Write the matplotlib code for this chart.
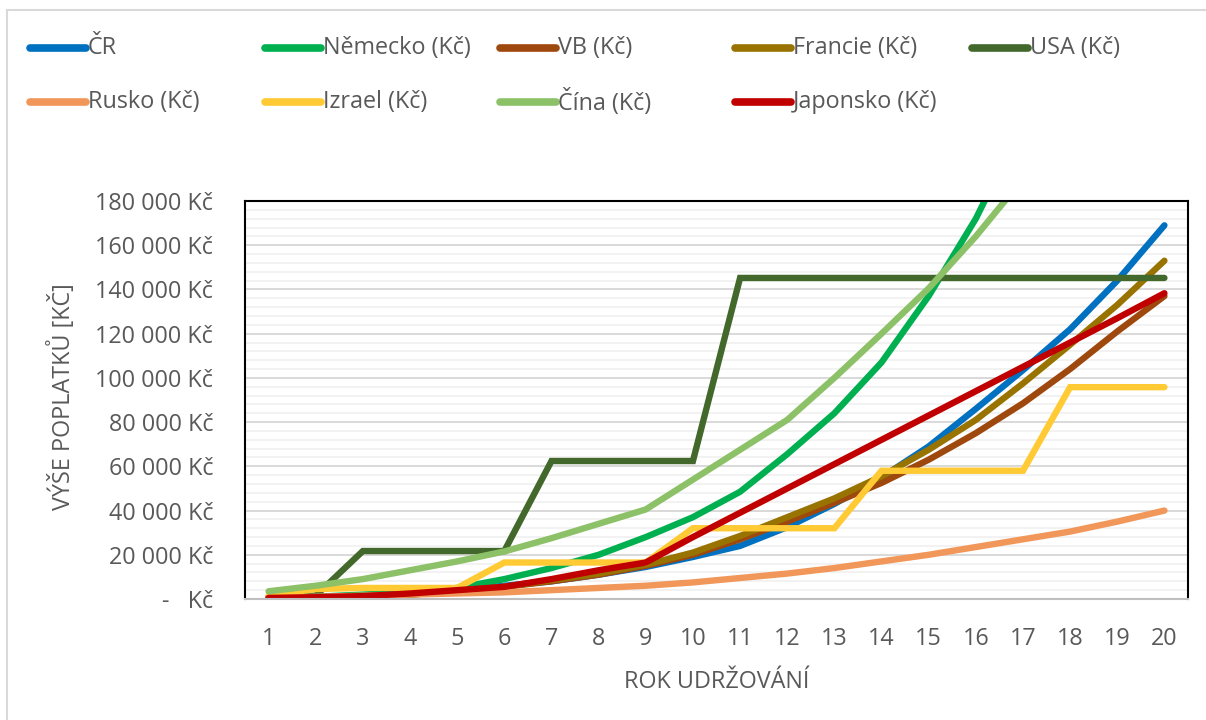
import numpy as np
import matplotlib
matplotlib.use("Agg")
import matplotlib.pyplot as plt
from matplotlib.lines import Line2D
from matplotlib.ticker import FuncFormatter, MultipleLocator

plt.rcParams["font.family"] = ["Open Sans", "DejaVu Sans"]

TEXT = "#595959"
FS = 16.8

years = list(range(1, 21))

cr       = [500, 1000, 1500, 2500, 4000, 6000, 8000, 11000, 14500, 19000,
            24000, 32500, 43000, 55000, 69000, 86000, 103500, 122000, 144000, 169000]
nemecko  = [500, 1000, 2000, 3000, 5000, 9000, 14000, 20000, 28000, 37000,
            48500, 65500, 84000, 107000, 137000, 172000, 215000, 260000, 310000, 360000]
vb       = [300, 700, 1200, 2000, 3500, 5500, 8000, 11000, 15000, 20000,
            27000, 35000, 43500, 52500, 63000, 75000, 88500, 104000, 121000, 137000]
francie  = [300, 700, 1200, 2000, 3500, 5500, 8500, 11500, 15500, 21000,
            28500, 37000, 45500, 55500, 67500, 81000, 97500, 115000, 133000, 153000]
usa      = [1000, 1500, 21700, 21700, 21700, 21700, 62400, 62400, 62400, 62400,
            145200, 145200, 145200, 145200, 145200, 145200, 145200, 145200, 145200, 145200]
rusko    = [500, 1000, 1500, 2000, 2500, 3000, 4000, 5000, 6000, 7500,
            9500, 11500, 14000, 17000, 20000, 23500, 27000, 30500, 35000, 40000]
izrael   = [1500, 4500, 5000, 5000, 5000, 16500, 16500, 16500, 16500, 32000,
            32000, 32000, 32000, 58000, 58000, 58000, 58000, 95800, 95800, 95800]
cina     = [3500, 6000, 9000, 13000, 17000, 21500, 27500, 34000, 40500, 54000,
            67500, 81000, 100000, 120000, 140500, 164000, 190000, 220000, 250000, 285000]
japonsko = [500, 800, 1300, 2500, 4000, 5500, 9000, 13000, 16500, 28000,
            39000, 50000, 61000, 72000, 83000, 94000, 105000, 116000, 127000, 138300]

series = [
    ("ČR", cr, "#0070C0"),
    ("Německo (Kč)", nemecko, "#00B050"),
    ("VB (Kč)", vb, "#9E480E"),
    ("Francie (Kč)", francie, "#997300"),
    ("USA (Kč)", usa, "#43682B"),
    ("Rusko (Kč)", rusko, "#F1975A"),
    ("Izrael (Kč)", izrael, "#FFCA33"),
    ("Čína (Kč)", cina, "#8CC168"),
    ("Japonsko (Kč)", japonsko, "#C00000"),
]

fig = plt.figure(figsize=(12.06, 7.2), dpi=100)
ax = fig.add_axes([245 / 1206, 1 - 599 / 720, (1188 - 245) / 1206, (599 - 201) / 720])

for name, vals, col in series:
    ax.plot(years, vals, color=col, lw=4.6, solid_capstyle="round",
            solid_joinstyle="miter", label=name)

ax.set_xlim(0.5, 20.5)
ax.set_ylim(0, 180000)
ax.set_xticks(years)
ax.yaxis.set_major_locator(MultipleLocator(20000))
ax.yaxis.set_minor_locator(MultipleLocator(4000))

def kc(v, pos):
    if v == 0:
        return "-   Kč"
    return f"{int(v):,}".replace(",", " ") + " Kč"

ax.yaxis.set_major_formatter(FuncFormatter(kc))
ax.grid(which="major", axis="y", color="#D9D9D9", lw=1.4, zorder=0)
ax.grid(which="minor", axis="y", color="#F2F2F2", lw=1.4, zorder=0)
ax.set_axisbelow(True)
ax.tick_params(axis="both", which="both", length=0, labelsize=FS, colors=TEXT)
ax.tick_params(axis="y", pad=23)
ax.tick_params(axis="x", pad=20)

for side in ("top", "left", "right"):
    ax.spines[side].set_color("black")
    ax.spines[side].set_linewidth(1.5)
ax.spines["bottom"].set_color("#BFBFBF")
ax.spines["bottom"].set_linewidth(1.5)

ax.set_xlabel("ROK UDRŽOVÁNÍ", fontsize=FS, color=TEXT, labelpad=14)
fig.text(62 / 1206, 1 - 397 / 720, "VÝŠE POPLATKŮ [KČ]", rotation=90,
         ha="center", va="center", fontsize=FS, color=TEXT)

# legend: two rows, five fixed-width columns
col_x = [30, 265, 500, 735, 972]
row_y = [48, 102]
for i, (name, vals, col) in enumerate(series):
    r, c = divmod(i, 5)
    x0, y0 = col_x[c], row_y[r]
    fig.add_artist(Line2D([x0 / 1206, (x0 + 56) / 1206], [1 - y0 / 720] * 2,
                          color=col, lw=5.5, solid_capstyle="round",
                          transform=fig.transFigure))
    fig.text((x0 + 58) / 1206, 1 - y0 / 720, name, ha="left", va="center",
             fontsize=FS, color=TEXT)

# chart area frame (left and top edges)
fig.add_artist(Line2D([7 / 1206, 7 / 1206], [0, 1 - 10 / 720], color="#D9D9D9",
                      lw=1.5, transform=fig.transFigure))
fig.add_artist(Line2D([7 / 1206, 1], [1 - 10 / 720] * 2, color="#D9D9D9",
                      lw=1.5, transform=fig.transFigure))

fig.savefig("out.png", dpi=100, facecolor="white")
